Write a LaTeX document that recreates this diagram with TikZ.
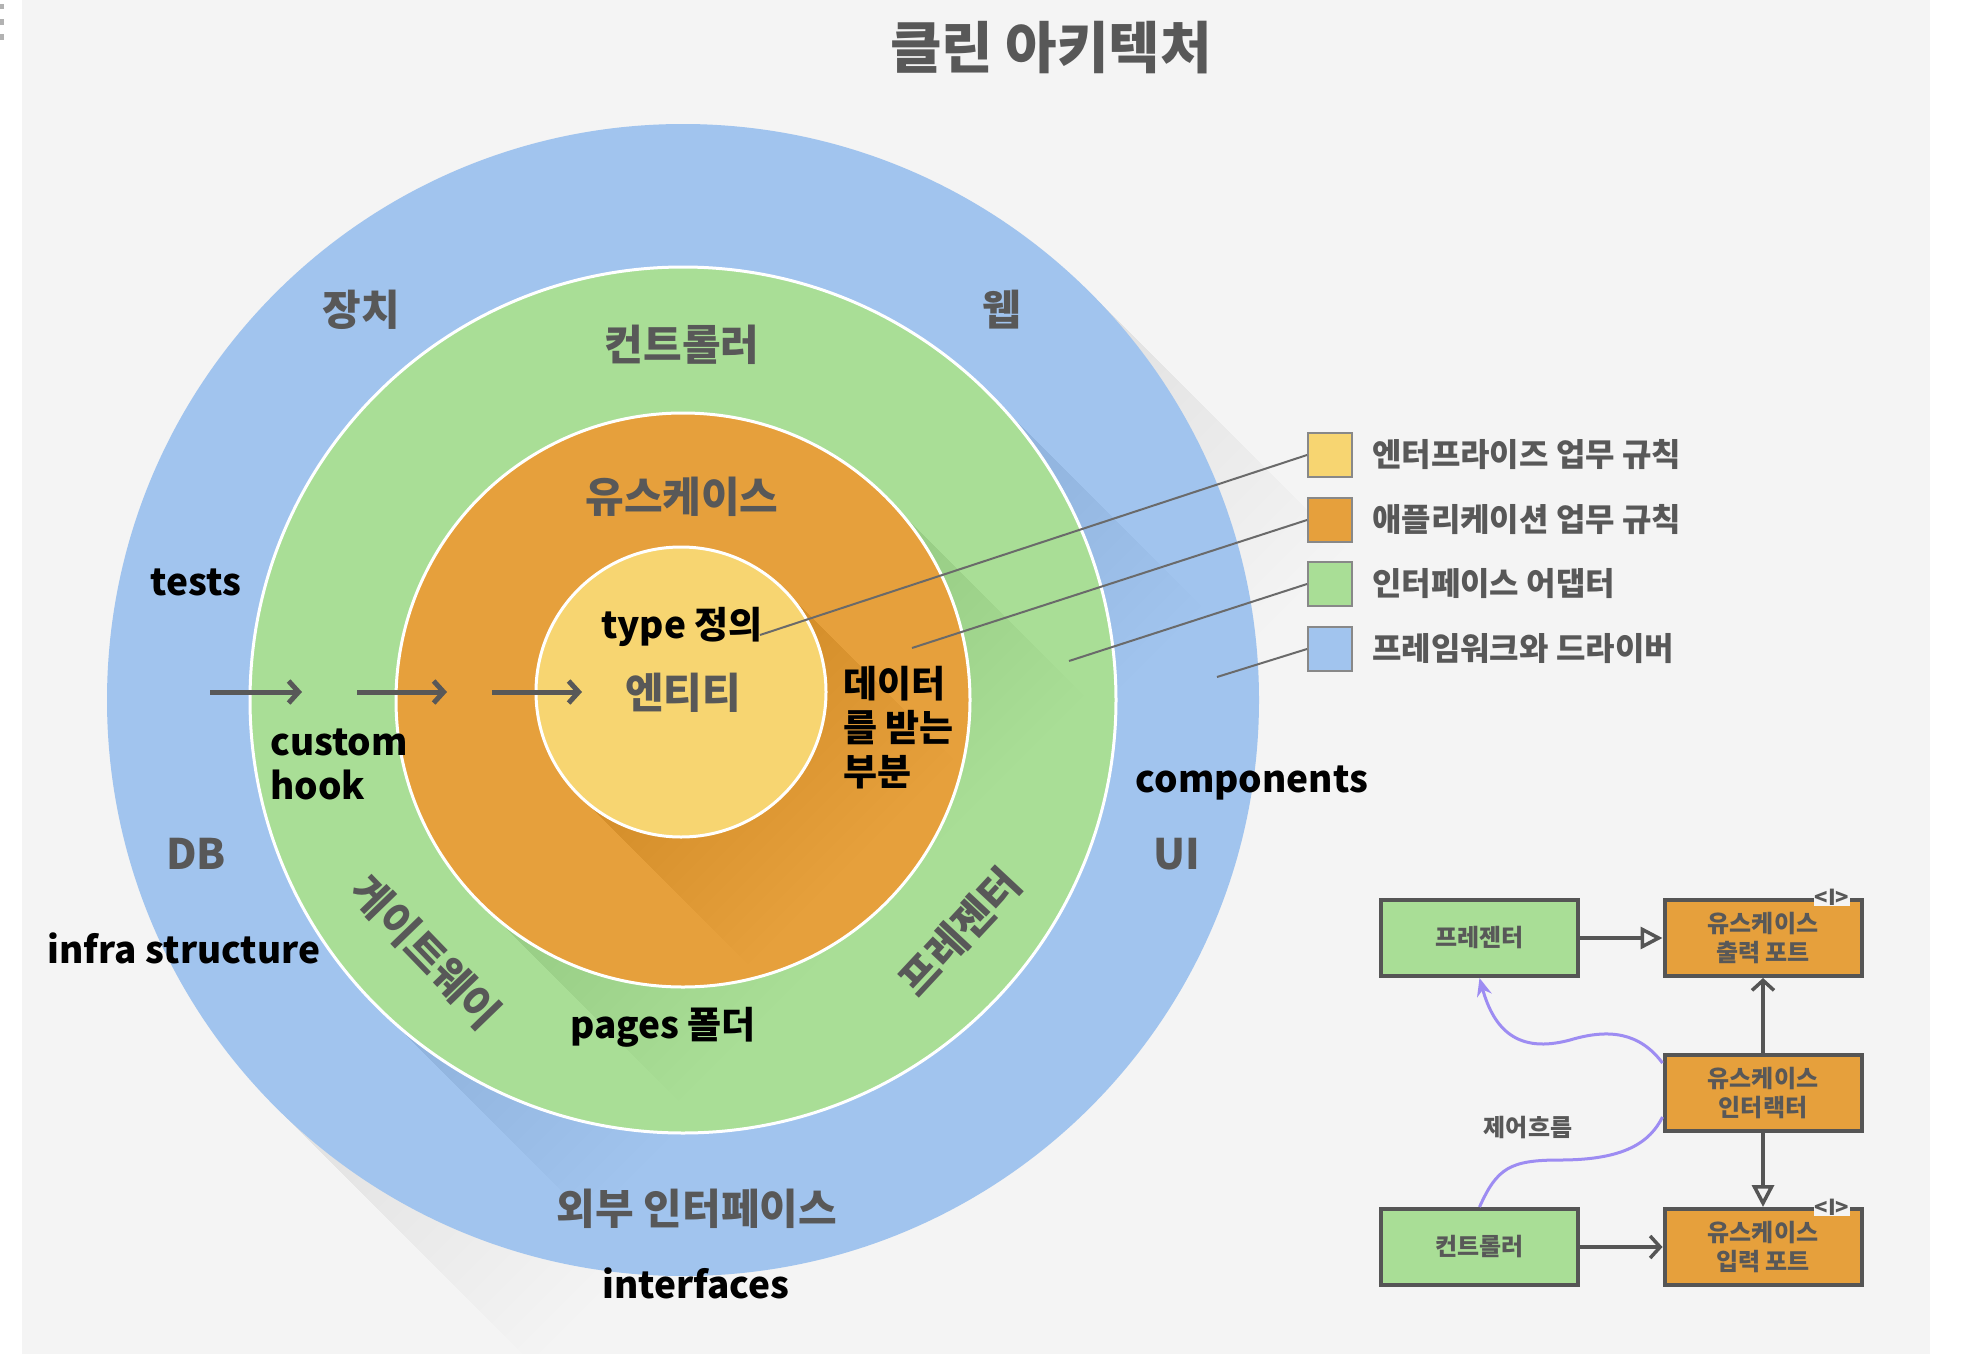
\documentclass[tikz,border=0pt]{standalone}
\usepackage{fontspec}
\setmainfont{Noto Sans CJK KR}
\usetikzlibrary{arrows.meta,calc}
\definecolor{bgc}{HTML}{F4F4F4}
\definecolor{cblue}{HTML}{A1C4EE}
\definecolor{cgreen}{HTML}{A9DE96}
\definecolor{corange}{HTML}{E6A03C}
\definecolor{cyellow}{HTML}{F7D571}
\definecolor{tgray}{HTML}{585858}
\definecolor{lgray}{HTML}{6A6A6A}
\definecolor{cpurple}{HTML}{9D8CF2}
\definecolor{bordc}{HTML}{555555}
\definecolor{legb}{HTML}{888888}
\newcommand\lshadow[5]{%
  \pgfmathsetmacro\shr{#3*0.70711}%
  \foreach \k in {1,...,20}{%
    \pgfmathsetmacro\shl{#4*\k/20*0.70711}%
    \fill[black,opacity=#5] (#1+\shr,#2-\shr) -- (#1+\shr+\shl,#2-\shr+\shl) -- (#1-\shr+\shl,#2+\shr+\shl) -- (#1-\shr,#2+\shr) -- cycle;
  }}
\begin{document}
\begin{tikzpicture}[x=1pt,y=-1pt,
  ringlabel/.style={text=tgray, font=\fontsize{42}{48}\selectfont\bfseries, inner sep=0pt},
  note/.style={text=black, font=\fontsize{37}{44}\selectfont\bfseries, inner sep=0pt, align=left},
  legbox/.style={draw=legb, line width=2pt, minimum size=44pt, inner sep=0pt},
  legtext/.style={text=tgray, font=\fontsize{32}{36}\selectfont\bfseries, anchor=west, inner sep=0pt},
  legline/.style={draw=lgray, line width=2pt},
  carrow/.style={draw=tgray, line width=5pt, -{Straight Barb[length=10pt,width=22pt]}},
  dbox/.style={draw=bordc, line width=4pt, minimum width=197pt, minimum height=76pt, text=tgray, font=\fontsize{24}{29}\selectfont\bfseries, align=center, inner sep=0pt},
  imark/.style={fill=bgc, text=tgray, font=\fontsize{22}{22}\selectfont\bfseries, inner sep=1pt},
  uml/.style={draw=bordc, line width=3.5pt},
  flow/.style={draw=cpurple, line width=3pt}]
\useasboundingbox (0,0) rectangle (1981,1354);
\fill[white] (0,0) rectangle (1981,1354);
\fill[bgc] (22,0) rectangle (1930,1354);
\fill[gray!60] (0,4) rectangle (4,9);
\fill[gray!60] (0,19) rectangle (4,25);
\fill[gray!60] (0,34) rectangle (4,40);

% title
\node[text=tgray, font=\fontsize{56}{60}\selectfont\bfseries, inner sep=0pt] (title) at (1051,48) {클린 아키텍처};

% circles with long shadows
\begin{scope}
  \clip (22,0) rectangle (1930,1354);
  \lshadow{683}{700}{576}{360}{0.0025}
\end{scope}
\fill[cblue] (683,700) circle (576);
\begin{scope}
  \clip (683,700) circle (576);
  \lshadow{683}{700}{433}{300}{0.0045}
\end{scope}
\fill[cgreen, draw=white, line width=3pt] (683,700) circle (433);
\begin{scope}
  \clip (683,700) circle (432);
  \lshadow{683}{700}{287}{280}{0.0045}
\end{scope}
\fill[corange, draw=white, line width=3pt] (683,700) circle (287);
\begin{scope}
  \clip (683,700) circle (286);
  \lshadow{681}{692}{145}{240}{0.0045}
\end{scope}
\fill[cyellow, draw=white, line width=3pt] (681,692) circle (145);

% ring labels
\node[ringlabel] (l1) at (361,310) {장치};
\node[ringlabel] (l2) at (1002,310) {웹};
\node[ringlabel] (l3) at (196,854) {DB};
\node[ringlabel] (l4) at (1177,854) {UI};
\node[ringlabel] (l5) at (697,1209) {외부 인터페이스};
\node[ringlabel] (l6) at (682,345) {컨트롤러};
\node[ringlabel, rotate=-46] (l7) at (426,952) {게이트웨이};
\node[ringlabel, rotate=47] (l8) at (960,932) {프레젠터};
\node[ringlabel] (l9) at (682,497) {유스케이스};
\node[ringlabel] (l10) at (683,693) {엔티티};

% arrows into the center
\coordinate (a1s) at (210,692); \coordinate (a1e) at (302,692);
\coordinate (a2s) at (357,692); \coordinate (a2e) at (447,692);
\coordinate (a3s) at (492,692); \coordinate (a3e) at (582,692);
\draw[carrow] (a1s) -- (a1e);
\draw[carrow] (a2s) -- (a2e);
\draw[carrow] (a3s) -- (a3e);

% legend
\node[legbox, fill=cyellow] (g1) at (1330,455) {};
\node[legbox, fill=corange] (g2) at (1330,520) {};
\node[legbox, fill=cgreen] (g3) at (1330,584) {};
\node[legbox, fill=cblue] (g4) at (1330,649) {};
\node[legtext] (t1) at (1372,455) {엔터프라이즈 업무 규칙};
\node[legtext] (t2) at (1372,520) {애플리케이션 업무 규칙};
\node[legtext] (t3) at (1372,584) {인터페이스 어댑터};
\node[legtext] (t4) at (1372,649) {프레임워크와 드라이버};
\coordinate (p1) at (760,635);
\coordinate (p2) at (912,648);
\coordinate (p3) at (1069,661);
\coordinate (p4) at (1217,677);
\draw[legline] (g1.west) -- (p1);
\draw[legline] (g2.west) -- (p2);
\draw[legline] (g3.west) -- (p3);
\draw[legline] (g4.west) -- (p4);

% black annotations
\node[note] (n1) at (196,582) {tests};
\node[note, anchor=west] (n2) at (270,764) {custom\\hook};
\node[note] (n3) at (682,627) {type 정의};
\node[note, anchor=west] (n4) at (843,728) {데이터\\를 받는\\부분};
\node[note] (n5) at (1252,783) {components};
\node[note] (n6) at (184,948) {infra structure};
\node[note] (n7) at (663,1027) {pages 폴더};
\node[note] (n8) at (696,1283) {interfaces};

% lower-right diagram
\node[dbox, fill=cgreen] (pres) at (1479.5,938) {프레젠터};
\node[dbox, fill=corange] (outp) at (1763,938) {유스케이스\\출력 포트};
\node[dbox, fill=corange] (inter) at (1763,1093) {유스케이스\\인터랙터};
\node[dbox, fill=cgreen] (ctrl) at (1479.5,1247) {컨트롤러};
\node[dbox, fill=corange] (inp) at (1763,1247) {유스케이스\\입력 포트};
\node[imark] (i1) at (1832,897) {<I>};
\node[imark] (i2) at (1832,1207) {<I>};
\draw[uml, -{Triangle[open,length=22pt,width=22pt]}] (pres.east) -- (outp.west);
\draw[uml, -{Straight Barb[length=10pt,width=22pt]}] (inter.north) -- (outp.south);
\draw[uml, -{Triangle[open,length=22pt,width=22pt]}] (inter.south) -- (inp.north);
\draw[uml, -{Straight Barb[length=10pt,width=22pt]}] (ctrl.east) -- (inp.west);
\draw[flow] (ctrl.north) .. controls (1497,1168) and (1510,1160) .. (1560,1160) .. controls (1625,1160) and (1650,1142) .. ($(inter.south west)+(0,-16)$);
\draw[flow, -{Stealth[length=18pt,width=15pt]}] ($(inter.north west)+(0,10)$) .. controls (1640,1033) and (1610,1028) .. (1570,1040) .. controls (1518,1054) and (1494,1030) .. (pres.south);
\node[text=tgray, font=\fontsize{24}{28}\selectfont\bfseries, inner sep=0pt] (cf) at (1528,1128) {제어흐름};
\end{tikzpicture}
\end{document}
